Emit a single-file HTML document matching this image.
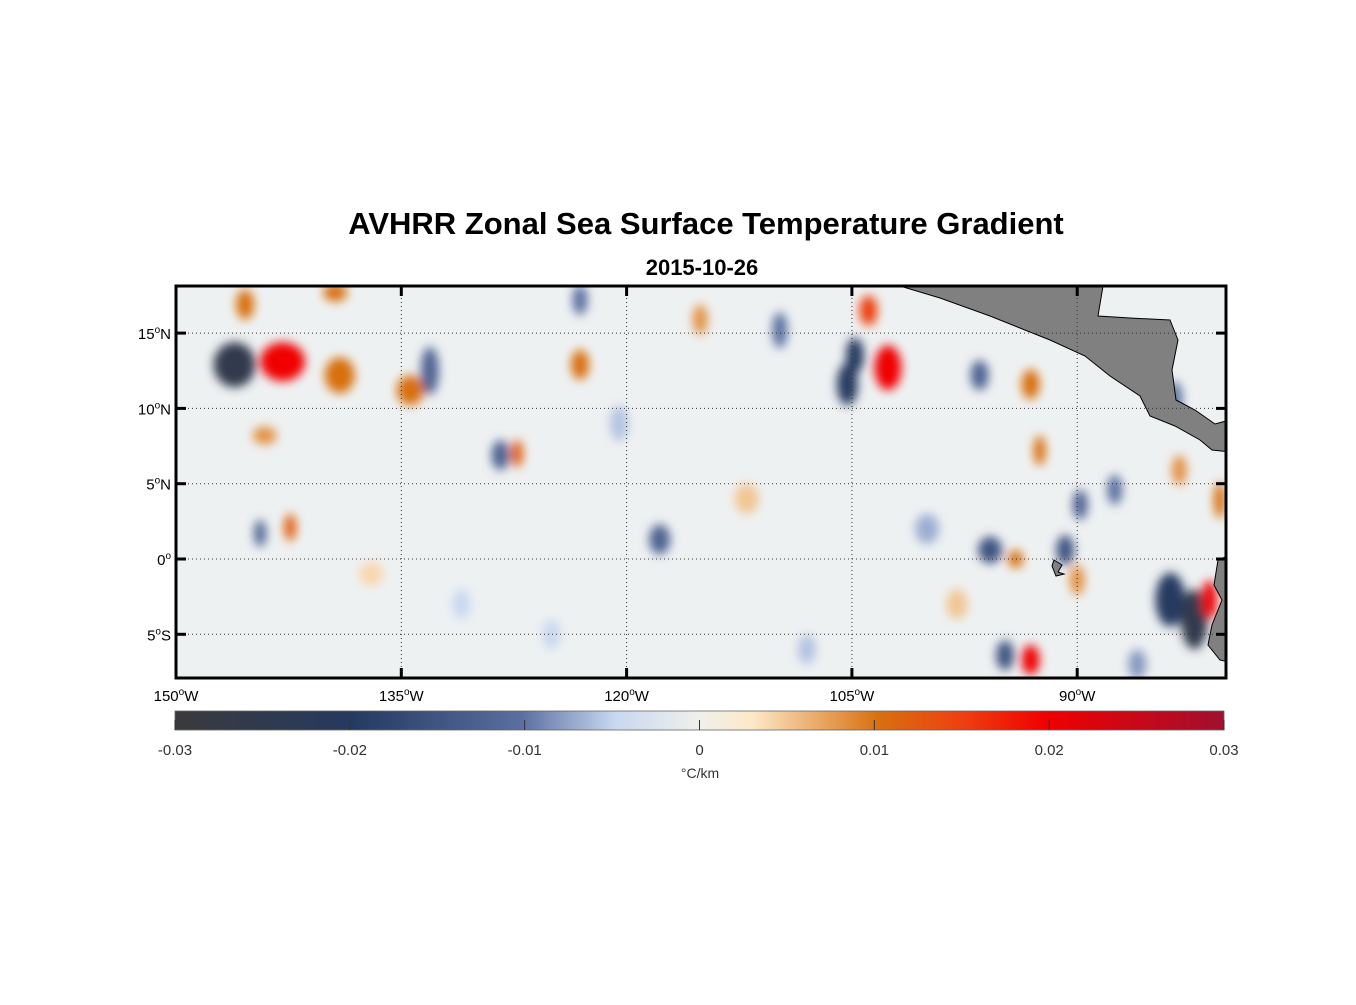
<!DOCTYPE html>
<html><head><meta charset="utf-8"><style>
body{margin:0;background:#fff;width:1356px;height:1000px;overflow:hidden;font-family:"Liberation Sans",sans-serif}
</style></head><body>
<svg id="chart" width="1356" height="1000" xmlns="http://www.w3.org/2000/svg" font-family="Liberation Sans, sans-serif">
<defs>
<filter id="blur" x="-20%" y="-20%" width="140%" height="140%"><feGaussianBlur stdDeviation="5"/></filter>
<clipPath id="mapclip"><rect x="176" y="286" width="1050" height="392"/></clipPath>
<linearGradient id="cbar" x1="0" x2="1" y1="0" y2="0">
<stop offset="0" stop-color="#3a3a3c"/><stop offset="0.17" stop-color="#253a60"/>
<stop offset="0.33" stop-color="#5a6fa0"/><stop offset="0.42" stop-color="#c8d8f0"/>
<stop offset="0.5" stop-color="#f0f0ec"/><stop offset="0.55" stop-color="#fde8c8"/>
<stop offset="0.67" stop-color="#d87010"/><stop offset="0.75" stop-color="#ee4010"/>
<stop offset="0.83" stop-color="#f00000"/><stop offset="1" stop-color="#a01030"/>
</linearGradient>
</defs>
<text x="706" y="234" text-anchor="middle" font-size="31" font-weight="bold">AVHRR Zonal Sea Surface Temperature Gradient</text>
<text x="702" y="275" text-anchor="middle" font-size="22" font-weight="bold">2015-10-26</text>
<g clip-path="url(#mapclip)">
<rect x="176" y="286" width="1050" height="392" fill="#eef1f2"/>
<g id="blobs" filter="url(#blur)"></g>
<g id="land"></g>
<g id="grid"></g>
</g>
<rect x="176" y="286" width="1050" height="392" fill="none" stroke="#000" stroke-width="3"/>
<g id="ticks"></g>
<rect x="175" y="711" width="1049" height="19" fill="url(#cbar)" stroke="#666" stroke-width="0.8"/>
<g id="cticks"></g>
<text x="700" y="778" text-anchor="middle" font-size="14" fill="#333">°C/km</text>
</svg>
<script>
const lonTicks=[150,135,120,105,90];
const latTicks=[15,10,5,0,-5];
const cbarTicks=[-0.03,-0.02,-0.01,0,0.01,0.02,0.03];
const blobLon=[146.1,142.9,139.1,134.4,133.1,127.3,128.4,123.1,104.8,105.3,102.6,103.9,96.5,93.1,92.5,142.4,144.4,144.1,117.8,95.8,94.1,90.8,90,83.8,82.2,81.2,93.1,94.8,89.8,87.5,80.5,109.8,115.1,123.1,139.4,145.4,83.2,83.5,120.5,112,100,131,137,125,108,98,86];
const blobLat=[12.9,13.1,12.2,11.2,12.5,7,6.9,12.9,13.5,11.6,12.7,16.5,12.2,11.6,7.2,2.1,1.7,8.2,1.3,0.6,0,0.6,-1.4,-2.7,-4,-2.7,-6.7,-6.4,3.6,4.6,3.9,15.2,15.9,17.2,17.7,16.9,5.9,10.6,9,4,2,-3,-1,-5,-6,-3,-7];
const blobVal=[-0.025,0.02,0.01,0.01,-0.012,0.012,-0.012,0.01,-0.02,-0.02,0.02,0.015,-0.012,0.01,0.01,0.012,-0.012,0.008,-0.012,-0.015,0.01,-0.015,0.008,-0.02,-0.025,0.02,0.02,-0.015,-0.012,-0.01,0.01,-0.01,0.008,-0.01,0.01,0.01,0.008,-0.01,-0.006,0.005,-0.007,-0.005,0.004,-0.005,-0.006,0.005,-0.008];
const blobRx=[1.4,1.5,1,0.9,0.6,0.4,0.6,0.6,0.6,0.7,0.9,0.6,0.6,0.6,0.4,0.4,0.4,0.8,0.7,0.8,0.5,0.6,0.5,1,0.9,0.5,0.6,0.6,0.5,0.5,0.4,0.5,0.5,0.5,0.8,0.6,0.5,0.5,0.6,0.8,0.8,0.6,0.8,0.6,0.6,0.7,0.6];
const blobRy=[1.5,1.3,1.2,1,1.6,0.9,1,1,1.2,1.4,1.5,1,1,1,1,0.9,0.9,0.6,1,0.9,0.6,1,1,1.8,2,1.3,1,1,1,1,1.2,1.2,1,1,0.6,1,1,1.2,1.2,1,1,1,0.8,1,1,1,1];
const cstops=[[-0.03,[58,58,60]],[-0.02,[37,58,96]],[-0.01,[90,111,160]],[-0.005,[200,216,240]],[0,[240,240,236]],[0.003,[253,232,200]],[0.01,[216,112,16]],[0.015,[238,64,16]],[0.02,[240,0,0]],[0.03,[160,16,48]]];
const NS="http://www.w3.org/2000/svg";
const xS=lon=>176+(150-lon)*15.02;
const yS=lat=>559-lat*15.06;
const cbX=v=>175+(v+0.03)/0.06*1049;
function col(v){v=Math.max(-0.03,Math.min(0.03,v));for(let i=0;i<cstops.length-1;i++){const a=cstops[i],b=cstops[i+1];if(v<=b[0]){const t=(v-a[0])/(b[0]-a[0]);return 'rgb('+a[1].map((c,k)=>Math.round(c+(b[1][k]-c)*t)).join(',')+')';}}return 'rgb(160,16,48)';}
function mk(tag,attrs,parent){const e=document.createElementNS(NS,tag);for(const k in attrs)e.setAttribute(k,attrs[k]);parent.appendChild(e);return e;}
const blobs=document.getElementById('blobs');
blobLon.forEach((lon,i)=>{
 const e=mk('ellipse',{cx:xS(lon),cy:yS(blobLat[i]),rx:blobRx[i]*15,ry:blobRy[i]*15,fill:col(blobVal[i])},blobs);
 
 
});
const land=document.getElementById('land');
const ca=mk('polygon',{points:"900,286 1103,286 1098,316 1130,318 1170,320 1178,340 1172,370 1176,400 1195,410 1215,424 1230,420 1230,452 1212,450 1200,440 1175,426 1150,416 1140,396 1110,376 1085,356 1050,340 990,316 940,298",fill:"#808080",stroke:"#000","stroke-width":1},land);


const sa=mk('polygon',{points:"1230,555 1218,560 1214,585 1222,600 1212,625 1208,645 1220,660 1230,662",fill:"#808080",stroke:"#000","stroke-width":1},land);


const gal=mk('polygon',{points:"1054,560 1062,565 1058,572 1064,574 1056,576 1052,566",fill:"#808080",stroke:"#000","stroke-width":1},land);


const grid=document.getElementById('grid'),ticks=document.getElementById('ticks');
lonTicks.forEach(l=>{const x=xS(l);
 const g=mk('line',{x1:x,x2:x,y1:286,y2:678,stroke:"#333","stroke-width":1,"stroke-dasharray":"1,3"},grid);
 
 mk('line',{x1:x,x2:x,y1:286,y2:296,stroke:"#000","stroke-width":3},ticks);
 mk('line',{x1:x,x2:x,y1:668,y2:678,stroke:"#000","stroke-width":3},ticks);
 const t=mk('text',{x:x,y:701,"text-anchor":"middle","font-size":15},ticks);
 t.innerHTML=l+'<tspan dy="-6" font-size="10">o</tspan><tspan dy="6">W</tspan>';
 
});
latTicks.forEach(l=>{const y=yS(l);
 const g=mk('line',{x1:176,x2:1226,y1:y,y2:y,stroke:"#333","stroke-width":1,"stroke-dasharray":"1,3"},grid);
 
 mk('line',{x1:176,x2:186,y1:y,y2:y,stroke:"#000","stroke-width":3},ticks);
 mk('line',{x1:1216,x2:1226,y1:y,y2:y,stroke:"#000","stroke-width":3},ticks);
 const t=mk('text',{x:171,y:y+6,"text-anchor":"end","font-size":15},ticks);
 t.innerHTML=Math.abs(l)+'<tspan dy="-6" font-size="10">o</tspan><tspan dy="6">'+(l>0?'N':l<0?'S':'')+'</tspan>';
 
});
const ct=document.getElementById('cticks');
cbarTicks.forEach(v=>{const x=cbX(v);
 mk('line',{x1:x,x2:x,y1:720,y2:730,stroke:"#333","stroke-width":1},ct);
 const t=mk('text',{x:x,y:755,"text-anchor":"middle","font-size":15,fill:"#333"},ct);
 t.textContent=String(v);
 
});
</script>
</body></html>
